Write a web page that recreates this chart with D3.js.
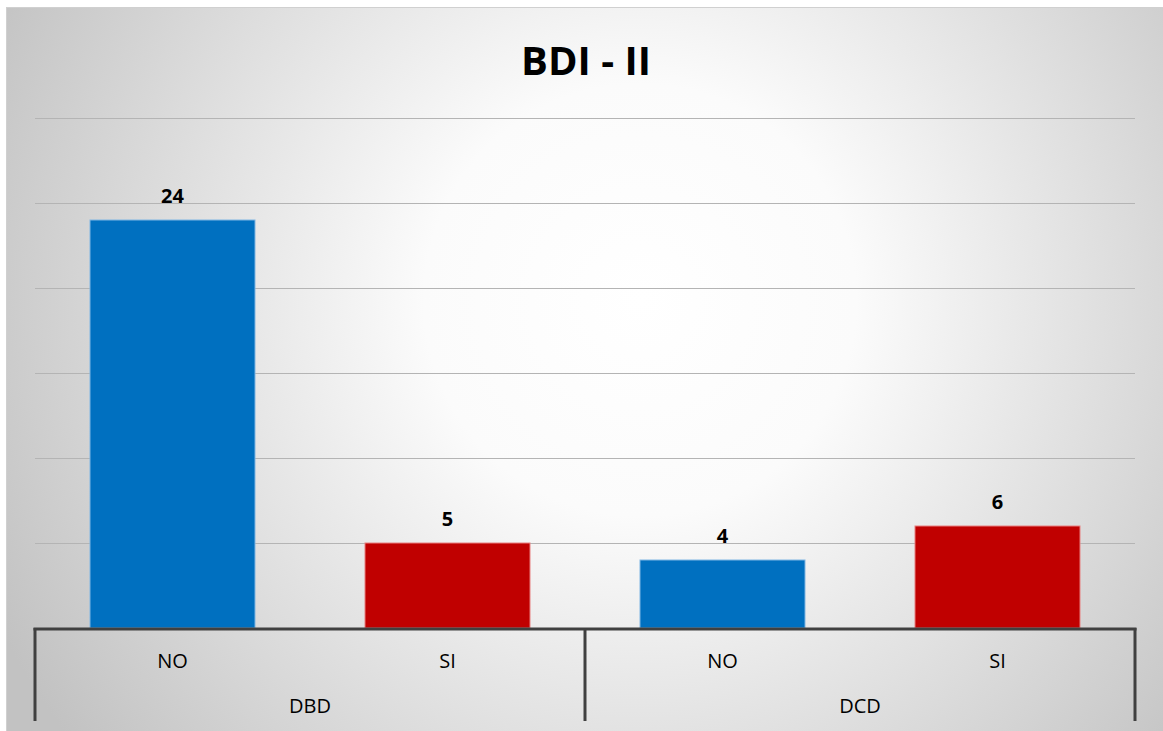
<!DOCTYPE html>
<html>
<head>
<meta charset="utf-8">
<script src="https://cdn.jsdelivr.net/npm/d3@7"></script>
<style>
  html, body { margin: 0; padding: 0; background: #fff; }
  svg { display: block; }
  text { font-family: "Open Sans", "Noto Sans", sans-serif; fill: #000; }
</style>
</head>
<body>
<svg id="chart" width="1163" height="731"></svg>
<script>
// data
const groups = ["DBD", "DCD"];
const answers = ["NO", "SI"];
const values = [[24, 5], [4, 6]];   // values[group][answer]
const yTicks = [0, 5, 10, 15, 20, 25, 30];
const title = "BDI - II";

const width = 1163, height = 731;
const colors = { NO: "#0070c0", SI: "#c00000" };
const strokes = { NO: "#7fb5e3", SI: "#e88080" };

const svg = d3.select("#chart");

// background gradient
const defs = svg.append("defs");
const grad = defs.append("radialGradient")
    .attr("id", "bg")
    .attr("gradientUnits", "userSpaceOnUse")
    .attr("cx", 640).attr("cy", 300).attr("r", 720);
grad.append("stop").attr("offset", "0%").attr("stop-color", "#ffffff");
grad.append("stop").attr("offset", "30%").attr("stop-color", "#fbfbfb");
grad.append("stop").attr("offset", "100%").attr("stop-color", "#c2c2c2");

svg.append("rect")
    .attr("x", 6.5).attr("y", 7.5)
    .attr("width", width).attr("height", height)
    .attr("fill", "url(#bg)")
    .attr("stroke", "#d0d0d0")
    .attr("stroke-width", 1);

const plot = { left: 35, right: 1135, top: 118, bottom: 628 };

const x0 = d3.scaleBand()
    .domain(groups)
    .range([plot.left, plot.right]);

const x1 = d3.scaleBand()
    .domain(answers)
    .range([0, x0.bandwidth()])
    .paddingInner(0.4)
    .paddingOuter(0.2);

const y = d3.scaleLinear()
    .domain([0, 30])
    .range([plot.bottom, plot.top]);

// gridlines
svg.append("g")
    .selectAll("line")
    .data(yTicks.filter(d => d > 0))
    .join("line")
    .attr("x1", plot.left).attr("x2", plot.right)
    .attr("y1", d => y(d) + 0.5).attr("y2", d => y(d) + 0.5)
    .attr("stroke", "#b4b4b4")
    .attr("stroke-width", 1.2);

// title
svg.append("text")
    .attr("x", 586).attr("y", 75)
    .attr("text-anchor", "middle")
    .attr("font-size", "40px")
    .attr("font-weight", "bold")
    .text(title);

// bars
const rows = [];
groups.forEach((g, i) => answers.forEach((a, j) => rows.push({ group: g, answer: a, value: values[i][j] })));

svg.append("g")
    .selectAll("rect")
    .data(rows)
    .join("rect")
    .attr("x", d => x0(d.group) + x1(d.answer))
    .attr("y", d => y(d.value))
    .attr("width", x1.bandwidth())
    .attr("height", d => y(0) - y(d.value))
    .attr("fill", d => colors[d.answer])
    .attr("stroke", d => strokes[d.answer])
    .attr("stroke-width", 1);

// value labels
svg.append("g")
    .selectAll("text")
    .data(rows)
    .join("text")
    .attr("x", d => x0(d.group) + x1(d.answer) + x1.bandwidth() / 2)
    .attr("y", d => y(d.value) - 17)
    .attr("text-anchor", "middle")
    .attr("font-size", "20px")
    .attr("font-weight", "bold")
    .text(d => d.value);

// category axis
const axisColor = "#404040";
svg.append("line")
    .attr("x1", plot.left - 1.5).attr("x2", plot.right + 1.5)
    .attr("y1", plot.bottom + 1).attr("y2", plot.bottom + 1)
    .attr("stroke", axisColor)
    .attr("stroke-width", 3);

const dividers = groups.map(g => x0(g)).concat([plot.right]);
svg.append("g")
    .selectAll("line")
    .data(dividers)
    .join("line")
    .attr("x1", d => d).attr("x2", d => d)
    .attr("y1", plot.bottom).attr("y2", 721)
    .attr("stroke", axisColor)
    .attr("stroke-width", 3);

svg.append("g")
    .selectAll("text")
    .data(rows)
    .join("text")
    .attr("x", d => x0(d.group) + x1(d.answer) + x1.bandwidth() / 2)
    .attr("y", 668)
    .attr("text-anchor", "middle")
    .attr("font-size", "20px")
    .text(d => d.answer);

svg.append("g")
    .selectAll("text")
    .data(groups)
    .join("text")
    .attr("x", d => x0(d) + x0.bandwidth() / 2)
    .attr("y", 713)
    .attr("text-anchor", "middle")
    .attr("font-size", "20px")
    .text(d => d);
</script>
</body>
</html>
